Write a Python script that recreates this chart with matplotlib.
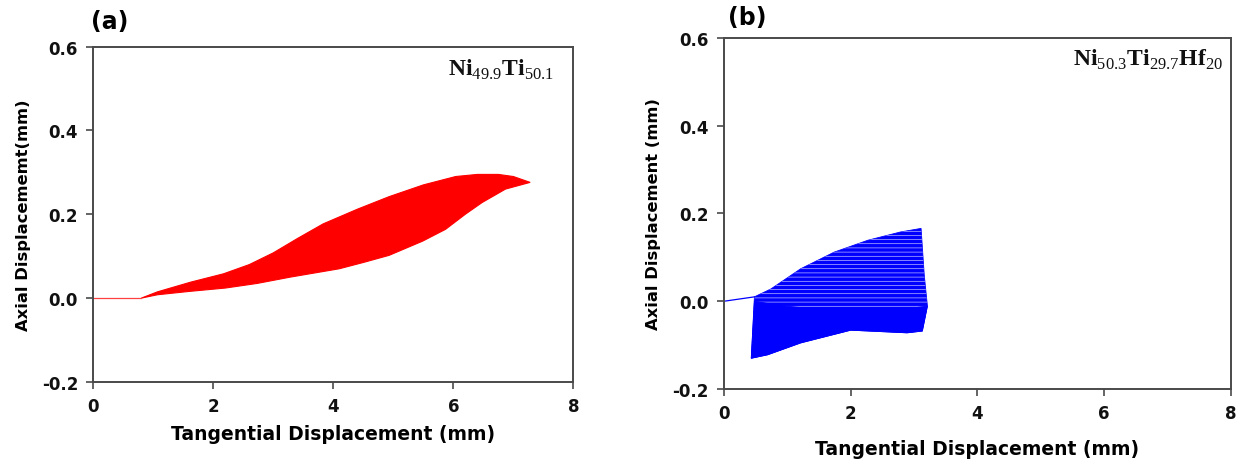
import matplotlib
matplotlib.use("Agg")
import matplotlib.pyplot as plt

plt.rcParams["font.family"] = "DejaVu Sans"
plt.rcParams["mathtext.fontset"] = "custom"
plt.rcParams["mathtext.rm"] = "Liberation Serif"
plt.rcParams["mathtext.bf"] = "Liberation Serif:bold"
plt.rcParams["hatch.linewidth"] = 0.4

# ---- data (mm) ----
# (a) Ni49.9Ti50.1 : run-in segment + envelope of the hysteresis loops
a_run_x = [0.0, 0.8]
a_run_y = [0.0, 0.0]
a_upper_x = [0.8, 1.07, 1.62, 2.17, 2.6, 3.0, 3.4, 3.83, 4.4, 4.93, 5.5, 6.04, 6.4, 6.75, 7.0, 7.28]
a_upper_y = [0.0, 0.015, 0.038, 0.058, 0.08, 0.108, 0.142, 0.177, 0.212, 0.242, 0.27, 0.29, 0.295, 0.295, 0.29, 0.276]
a_lower_x = [0.8, 1.07, 1.6, 2.2, 2.73, 3.28, 4.1, 4.5, 4.93, 5.49, 5.87, 6.2, 6.48, 6.87, 7.28]
a_lower_y = [0.0, 0.008, 0.016, 0.024, 0.035, 0.05, 0.07, 0.085, 0.102, 0.136, 0.164, 0.2, 0.228, 0.26, 0.276]

# (b) Ni50.3Ti29.7Hf20
b_run_x = [0.0, 0.48]
b_run_y = [0.0, 0.01]
b_upper_x = [0.43, 0.48, 0.74, 1.21, 1.74, 2.27, 2.79, 3.11]
b_upper_y = [-0.13, 0.01, 0.028, 0.074, 0.112, 0.139, 0.158, 0.166]
b_right_x = [3.11, 3.16, 3.21, 3.13]
b_right_y = [0.166, 0.06, -0.011, -0.068]
b_lower_x = [3.13, 2.89, 2.0, 1.21, 0.69, 0.43]
b_lower_y = [-0.068, -0.072, -0.066, -0.095, -0.122, -0.13]
# dense core of the loops (lower band)
b_core_x = [0.43, 0.48, 0.9, 1.6, 2.3, 3.0, 3.21, 3.13, 2.89, 2.0, 1.21, 0.69, 0.43]
b_core_y = [-0.13, 0.0, -0.01, -0.02, -0.02, -0.015, -0.011, -0.068, -0.072, -0.066, -0.095, -0.122, -0.13]

x_ticks = [0, 2, 4, 6, 8]
y_ticks = [-0.2, 0.0, 0.2, 0.4, 0.6]
y_ticklabels = ["-0.2", "0.0", "0.2", "0.4", "0.6"]

FRAME = "#4a4a4a"


def style(ax):
    ax.set_xlim(0, 8)
    ax.set_ylim(-0.2, 0.6)
    ax.set_xticks(x_ticks)
    ax.set_xticklabels([str(t) for t in x_ticks])
    ax.set_yticks(y_ticks)
    ax.set_yticklabels(y_ticklabels)
    for s in ax.spines.values():
        s.set_color(FRAME)
        s.set_linewidth(1.4)
    ax.tick_params(direction="out", length=5, width=1.2, color=FRAME,
                   labelsize=12, pad=6)
    for lab in ax.get_xticklabels() + ax.get_yticklabels():
        lab.set_fontweight("bold")
        lab.set_color("#111111")


fig = plt.figure(figsize=(12.44, 4.64), dpi=100)

# ---------- (a) ----------
ax1 = fig.add_axes([0.075, 0.1746, 0.3859, 0.723])
ax1.plot(a_run_x, a_run_y, color="#ff4040", lw=0.9)
ax1.fill(a_upper_x + a_lower_x[::-1], a_upper_y + a_lower_y[::-1],
         color="red", lw=0.8)
style(ax1)
ax1.set_xlabel("Tangential Displacement (mm)", fontsize=13.5, fontweight="bold", labelpad=6)
ax1.set_ylabel("Axial Displacememt(mm)", fontsize=11.8, fontweight="bold", labelpad=8)
ax1.text(0.96, 0.933, r"$\mathbf{Ni}_{\mathrm{49.9}}\mathbf{Ti}_{\mathrm{50.1}}$",
         transform=ax1.transAxes, ha="right", va="center", fontsize=17, color="#111111")
fig.text(0.073, 0.952, "(a)", fontsize=17, fontweight="bold", ha="left", va="center")

# ---------- (b) ----------
ax2 = fig.add_axes([0.582, 0.1595, 0.4075, 0.7565])
ax2.plot(b_run_x, b_run_y, color="blue", lw=0.9)
envelope_x = b_upper_x + b_right_x + b_lower_x
envelope_y = b_upper_y + b_right_y + b_lower_y
ax2.fill(envelope_x, envelope_y, color="blue", lw=0.6)
# loose loops in the upper part leave thin white gaps
ax2.fill(envelope_x, envelope_y, facecolor="none", edgecolor="#e8e8ff", hatch="----", lw=0)
ax2.fill(b_core_x, b_core_y, color="blue", lw=0.6)
style(ax2)
ax2.set_xlabel("Tangential Displacement (mm)", fontsize=13.5, fontweight="bold", labelpad=12)
ax2.set_ylabel("Axial Displacement (mm)", fontsize=11.8, fontweight="bold", labelpad=8)
ax2.text(0.985, 0.94, r"$\mathbf{Ni}_{\mathrm{50.3}}\mathbf{Ti}_{\mathrm{29.7}}\mathbf{Hf}_{\mathrm{20}}$",
         transform=ax2.transAxes, ha="right", va="center", fontsize=17, color="#111111")
fig.text(0.585, 0.962, "(b)", fontsize=17, fontweight="bold", ha="left", va="center")

fig.savefig("out.png", dpi=100)
